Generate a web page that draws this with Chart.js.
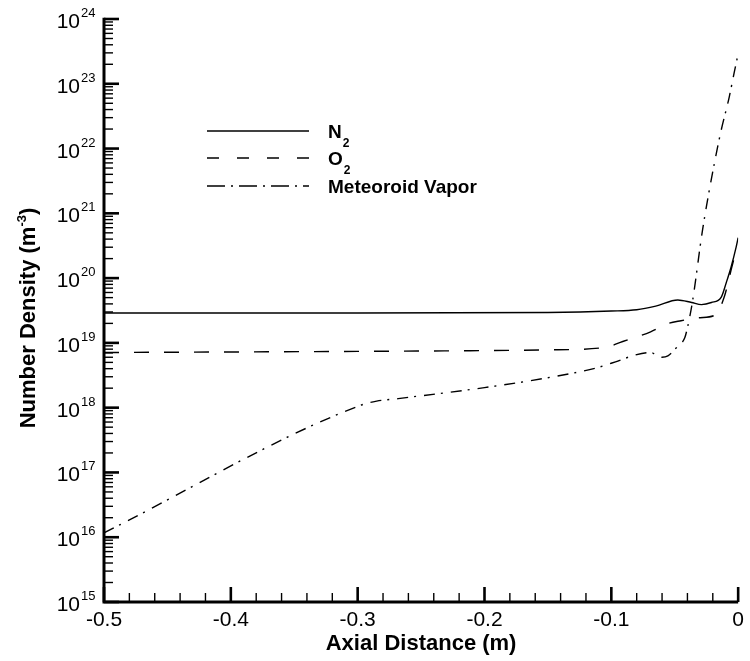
<!DOCTYPE html>
<html>
<head>
<meta charset="utf-8">
<script src="https://cdn.jsdelivr.net/npm/chart.js@4.4.1/dist/chart.umd.min.js"></script>
<style>
  html, body { margin: 0; padding: 0; background: #fff; }
  #wrap { width: 750px; height: 661px; }
</style>
</head>
<body>
<div id="wrap"><canvas id="c" width="750" height="661"></canvas></div>
<script>
// Axial distance (m) and number density (m^-3) along the stagnation line
const n2X = [-0.5, -0.3, -0.15, -0.1, -0.08, -0.065, -0.0476, -0.0367, -0.0289, -0.0211, -0.0133, -0.0094, -0.0055, -0.0016, 0];
const n2Y = [2.9e19, 2.9e19, 2.95e19, 3.1e19, 3.25e19, 3.7e19, 4.6e19, 4.2e19, 3.9e19, 4.2e19, 5.1e19, 8.5e19, 1.5e20, 3.0e20, 4.2e20];

const o2X = [-0.5, -0.3, -0.15, -0.105, -0.091, -0.069, -0.055, -0.045, -0.03, -0.018, -0.011, -0.0055, -0.001];
const o2Y = [7.1e18, 7.4e18, 7.8e18, 8.5e18, 1.05e19, 1.48e19, 2.0e19, 2.2e19, 2.45e19, 2.7e19, 5.1e19, 1.35e20, 3.0e20];

const vaporX = [-0.5, -0.297, -0.285, -0.268, -0.2, -0.15, -0.112, -0.0967, -0.0811, -0.0694, -0.0601, -0.0554, -0.0476, -0.0421, -0.0398, -0.0359, -0.0281, -0.0187, -0.0133, -0.007, -0.0031, 0];
const vaporY = [1.17e16, 1.1e18, 1.26e18, 1.38e18, 2.04e18, 2.9e18, 4.1e18, 5.1e18, 6.5e18, 7.1e18, 6.0e18, 6.3e18, 8.9e18, 1.2e19, 1.78e19, 4.5e19, 5.5e20, 6.0e21, 1.95e22, 6.3e22, 1.5e23, 2.9e23];

const seriesNames = ['N', 'O', 'Meteoroid Vapor'];
const seriesSubs = ['2', '2', ''];
const xTicks = [-0.5, -0.4, -0.3, -0.2, -0.1, 0];
const yExponents = [15, 16, 17, 18, 19, 20, 21, 22, 23, 24];

const FONT = '"Liberation Sans", Arial, Helvetica, sans-serif';
const dashO2 = [15, 15];
const dashVapor = [11, 6, 2, 8];

const toPts = (xs, ys) => xs.map((v, i) => ({ x: v, y: ys[i] }));

const decor = {
  id: 'decor',
  afterDraw(chart) {
    const { ctx, chartArea: a, scales: { x, y } } = chart;
    ctx.save();
    ctx.strokeStyle = '#000';
    ctx.fillStyle = '#000';
    const seg = (x1, y1, x2, y2) => { ctx.beginPath(); ctx.moveTo(x1, y1); ctx.lineTo(x2, y2); ctx.stroke(); };

    // minor ticks on the log axis
    ctx.lineWidth = 1.4;
    for (let e = yExponents[0]; e < yExponents[yExponents.length - 1]; e++) {
      for (let m = 2; m <= 9; m++) {
        const py = y.getPixelForValue(m * Math.pow(10, e));
        seg(a.left, py, a.left + 9, py);
      }
    }
    // major ticks on the log axis
    ctx.lineWidth = 2.6;
    yExponents.forEach(e => {
      const py = y.getPixelForValue(Math.pow(10, e));
      seg(a.left, py, a.left + 15, py);
    });
    // minor ticks on the distance axis
    ctx.lineWidth = 1.4;
    for (let k = 1; k < 25; k++) {
      if (k % 5 === 0) continue;
      const px = x.getPixelForValue(-0.5 + k * 0.02);
      seg(px, a.bottom, px, a.bottom - 9);
    }
    ctx.lineWidth = 2.6;
    xTicks.forEach(v => {
      const px = x.getPixelForValue(v);
      seg(px, a.bottom, px, a.bottom - 15);
    });
    // axis lines
    ctx.lineWidth = 3;
    ctx.beginPath();
    ctx.moveTo(a.left, a.top - 1.3);
    ctx.lineTo(a.left, a.bottom);
    ctx.lineTo(a.right, a.bottom);
    ctx.stroke();

    // decade labels 10^n
    ctx.textBaseline = 'alphabetic';
    yExponents.forEach(e => {
      const py = y.getPixelForValue(Math.pow(10, e));
      ctx.font = '21px ' + FONT;
      ctx.textAlign = 'right';
      ctx.fillText('10', 80, py + 9);
      ctx.font = '13px ' + FONT;
      ctx.textAlign = 'left';
      ctx.fillText(String(e), 81, py - 2);
    });

    // axis titles
    ctx.font = 'bold 22px ' + FONT;
    ctx.textAlign = 'center';
    ctx.fillText('Axial Distance (m)', (a.left + a.right) / 2, 650);

    ctx.save();
    ctx.translate(35, 318);
    ctx.rotate(-Math.PI / 2);
    const t1 = 'Number Density (m', t2 = '-3', t3 = ')';
    ctx.font = 'bold 22px ' + FONT;
    const w1 = ctx.measureText(t1).width, w3 = ctx.measureText(t3).width;
    ctx.font = 'bold 13px ' + FONT;
    const w2 = ctx.measureText(t2).width;
    let cx = -(w1 + w2 + w3) / 2;
    ctx.textAlign = 'left';
    ctx.font = 'bold 22px ' + FONT;
    ctx.fillText(t1, cx, 0); cx += w1;
    ctx.font = 'bold 13px ' + FONT;
    ctx.fillText(t2, cx, -9); cx += w2;
    ctx.font = 'bold 22px ' + FONT;
    ctx.fillText(t3, cx, 0);
    ctx.restore();

    // legend
    const rows = [131, 158, 186];
    const dashes = [[], [12, 18], [18, 6, 2, 6]];
    rows.forEach((ry, i) => {
      ctx.lineWidth = 1.4;
      ctx.setLineDash(dashes[i]);
      seg(207, ry, 309, ry);
      ctx.setLineDash([]);
      ctx.textAlign = 'left';
      ctx.font = 'bold 19px ' + FONT;
      ctx.fillText(seriesNames[i], 328, ry + 7);
      if (seriesSubs[i]) {
        const w = ctx.measureText(seriesNames[i]).width;
        ctx.font = 'bold 12px ' + FONT;
        ctx.fillText(seriesSubs[i], 328 + w + 1, ry + 16);
      }
    });
    ctx.restore();
  }
};

new Chart(document.getElementById('c'), {
  type: 'line',
  data: {
    datasets: [
      { label: 'N2', data: toPts(n2X, n2Y), borderColor: '#000', borderWidth: 1.4, pointRadius: 0, cubicInterpolationMode: 'monotone' },
      { label: 'O2', data: toPts(o2X, o2Y), borderColor: '#000', borderWidth: 1.4, borderDash: dashO2, pointRadius: 0, cubicInterpolationMode: 'monotone' },
      { label: 'Meteoroid Vapor', data: toPts(vaporX, vaporY), borderColor: '#000', borderWidth: 1.4, borderDash: dashVapor, pointRadius: 0, cubicInterpolationMode: 'monotone' }
    ]
  },
  options: {
    responsive: false,
    animation: false,
    devicePixelRatio: 1,
    layout: { padding: { top: 19, right: 6, left: 0, bottom: 0 } },
    plugins: { legend: { display: false }, tooltip: { enabled: false } },
    scales: {
      x: {
        type: 'linear', min: -0.5, max: 0,
        grid: { display: false, drawTicks: false },
        border: { display: false },
        afterFit: s => { s.height = 59; },
        afterBuildTicks: s => { s.ticks = xTicks.map(v => ({ value: v })); },
        ticks: {
          color: '#000', padding: 6,
          font: { family: FONT, size: 21 },
          callback: v => String(parseFloat(Number(v).toFixed(1)))
        }
      },
      y: {
        type: 'logarithmic', min: 1e15, max: 1e24,
        grid: { display: false, drawTicks: false },
        border: { display: false },
        ticks: { display: false },
        afterFit: s => { s.width = 104; }
      }
    }
  },
  plugins: [decor]
});
</script>
</body>
</html>
